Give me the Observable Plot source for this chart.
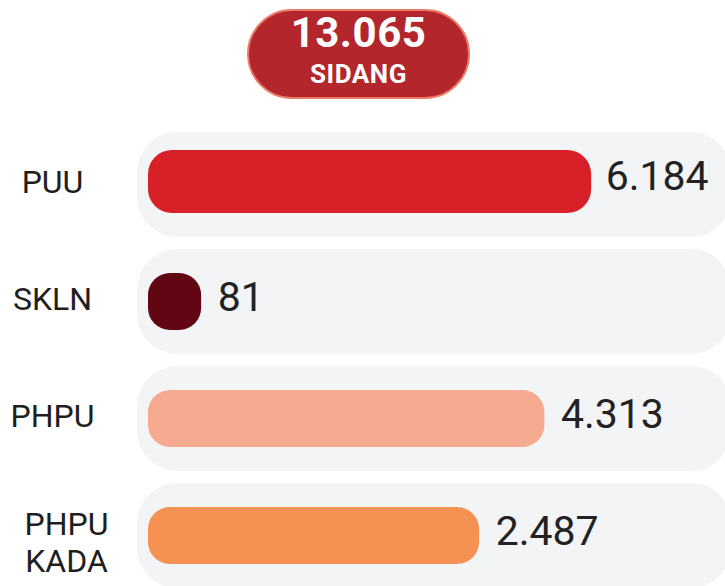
<!DOCTYPE html>
<html>
<head>
<meta charset="utf-8">
<script src="https://cdn.jsdelivr.net/npm/d3@7"></script>
<script src="https://cdn.jsdelivr.net/npm/@observablehq/plot@0.6"></script>
<style>
  html, body { margin: 0; padding: 0; background: #ffffff; overflow: hidden; }
  body { width: 725px; height: 586px; font-family: Roboto, "Noto Sans", sans-serif; }
  #badge-wrap { position: relative; height: 110px; width: 725px; }
  #badge {
    position: absolute; left: 247px; top: 9px; width: 223px; height: 90px;
    box-sizing: border-box; border-radius: 45px; background: #b3262b;
    border: 2px solid #ec7a67; color: #ffffff; text-align: center;
  }
  #badge .num { position: absolute; left: 0; right: 0; top: 2px; font-size: 42px; font-weight: 700; line-height: 40px; letter-spacing: 0.5px; }
  #badge .lbl { position: absolute; left: 0; right: 0; top: 49px; font-size: 26px; font-weight: 700; line-height: 28px; letter-spacing: 0.5px; }
  #chart svg { display: block; }
</style>
</head>
<body>
<div id="badge-wrap"><div id="badge"><div class="num"></div><div class="lbl"></div></div></div>
<div id="chart"></div>
<script>
// ---- data ----
const categories = ["PUU", "SKLN", "PHPU", "PHPU KADA"];
const labels = ["PUU", "SKLN", "PHPU", "PHPU\nKADA"];
const values = [6184, 81, 4313, 2487];
const colors = ["#d72027", "#620614", "#f6aa90", "#f59152"];
const totalLabel = "SIDANG";
const highlighted = "PUU";

// ---- formatting (Indonesian thousands separator) ----
const id = d3.formatLocale({decimal: ",", thousands: ".", grouping: [3], currency: ["Rp", ""]});
const fmt = id.format(",d");

const data = categories.map((c, i) => ({cat: c, label: labels[i], value: values[i], color: colors[i]}));

document.querySelector("#badge .num").textContent = fmt(d3.sum(values));
document.querySelector("#badge .lbl").textContent = totalLabel;

const xDomain = [28.6, 15900];
const isHi = d => d.cat === highlighted;
const notHi = d => d.cat !== highlighted;
const multi = d => d.label.includes("\n");
const single = d => !d.label.includes("\n");

const chart = Plot.plot({
  width: 725,
  height: 476,
  marginLeft: 52,
  marginRight: 0,
  marginTop: 0,
  marginBottom: 0,
  style: {fontFamily: "Roboto, sans-serif", overflow: "visible", background: "transparent"},
  x: {type: "pow", exponent: 0.2, domain: xDomain, range: [148, 731], axis: null},
  y: {type: "band", domain: categories, range: [22, 478], paddingInner: 0.1026, paddingOuter: 0, axis: null},
  color: {type: "identity"},
  marks: [
    // background tracks
    Plot.barX(data, {y: "cat", x1: () => xDomain[0], x2: () => xDomain[1], fill: "#f3f4f6", rx: 40, insetLeft: -11}),
    // bars
    Plot.barX(data.filter(notHi), {y: "cat", x1: () => xDomain[0], x2: "value", fill: "color", rx: 22, insetTop: 24, insetBottom: 24}),
    Plot.barX(data.filter(isHi), {y: "cat", x1: () => xDomain[0], x2: "value", fill: "color", rx: 24, insetTop: 18, insetBottom: 24}),
    // value labels
    Plot.text(data.filter(notHi), {y: "cat", x: "value", text: d => fmt(d.value), textAnchor: "start", dx: 16, dy: -4, fontSize: 41, fontWeight: 400, fill: "#222222"}),
    Plot.text(data.filter(isHi), {y: "cat", x: "value", text: d => fmt(d.value), textAnchor: "start", dx: 14, dy: -8, fontSize: 41, fontWeight: 400, fill: "#222222"}),
    // category labels
    Plot.text(data.filter(single), {y: "cat", text: "label", frameAnchor: "left", textAnchor: "middle", dy: -2, fontSize: 32, fontWeight: 400, fill: "#1e1e1e"}),
    Plot.text(data.filter(multi), {y: "cat", text: "label", frameAnchor: "left", textAnchor: "middle", dx: 14, dy: 6, lineHeight: 1.14, fontSize: 32, fontWeight: 400, fill: "#1e1e1e"})
  ]
});
document.getElementById("chart").appendChild(chart);
</script>
</body>
</html>
